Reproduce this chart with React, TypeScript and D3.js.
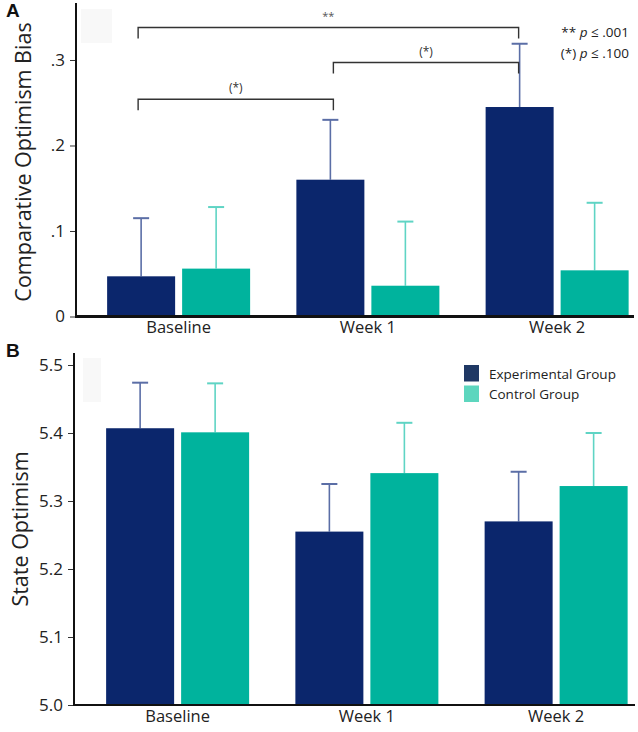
// App.tsx
import React, { useEffect, useRef } from "react";
import * as d3 from "d3";

const categories = ["Baseline", "Week 1", "Week 2"];
const groups = ["Experimental Group", "Control Group"];

// panel A: comparative optimism bias (mean, upper error)
const biasExp = [0.047, 0.16, 0.245];
const biasExpErr = [0.068, 0.07, 0.074];
const biasCtrl = [0.056, 0.036, 0.054];
const biasCtrlErr = [0.072, 0.075, 0.079];
const biasTicks = [0, 0.1, 0.2, 0.3];
const biasTickLabels = ["0", ".1", ".2", ".3"];

// significance brackets for panel A
const brackets = [
	{ from: "Baseline", to: "Week 2", level: 0.338, label: "**" },
	{ from: "Week 1", to: "Week 2", level: 0.297, label: "(*)" },
	{ from: "Baseline", to: "Week 1", level: 0.254, label: "(*)" },
];
const pNotes = [
	{ stars: "** ", value: " \u2264 .001" },
	{ stars: "(*) ", value: " \u2264 .100" },
];

// panel B: state optimism
const optExp = [5.407, 5.255, 5.27];
const optExpErr = [0.067, 0.07, 0.073];
const optCtrl = [5.401, 5.341, 5.322];
const optCtrlErr = [0.072, 0.074, 0.078];
const optTicks = [5.0, 5.1, 5.2, 5.3, 5.4, 5.5];

const barColor = { exp: "#0b266c", ctrl: "#00b39d" };
const errColor = { exp: "#5b6ea6", ctrl: "#5fd4c4" };
const legendColor = { exp: "#1f3864", ctrl: "#5dd6be" };
const font = "'Open Sans', sans-serif";

function drawPanel(svg, opts) {
	const { x, y, axisX, axisTop, axisBottom, xEnd, ticks, tickFormat, title, letter, letterY, exp, expErr, ctrl, ctrlErr, baseW } = opts;
	const g = svg.append("g");

	const inner = d3.scaleBand().domain(groups).range([0, 143]).paddingInner(7 / 75);
	const off = (x.bandwidth() - 143) / 2;

	// faint background artifact box
	g.append("rect").attr("x", opts.boxX).attr("y", opts.boxY).attr("width", opts.boxW).attr("height", opts.boxH).attr("fill", "#f8f8f8");

	const rows = categories.map((c, i) => [
		{ c, g: groups[0], v: exp[i], e: expErr[i], k: "exp" },
		{ c, g: groups[1], v: ctrl[i], e: ctrlErr[i], k: "ctrl" },
	]).flat();

	const base = y.domain()[0];

	// error bars
	rows.forEach((d) => {
		const cx = x(d.c) + off + inner(d.g) + inner.bandwidth() / 2;
		g.append("line").attr("x1", cx).attr("x2", cx).attr("y1", y(d.v)).attr("y2", y(d.v + d.e))
			.attr("stroke", errColor[d.k]).attr("stroke-width", 1.6);
		g.append("line").attr("x1", cx - 8).attr("x2", cx + 8).attr("y1", y(d.v + d.e)).attr("y2", y(d.v + d.e))
			.attr("stroke", errColor[d.k]).attr("stroke-width", 2);
	});

	g.selectAll("rect.bar")
		.data(rows)
		.enter()
		.append("rect")
		.attr("class", "bar")
		.attr("x", (d) => x(d.c) + off + inner(d.g))
		.attr("y", (d) => y(d.v))
		.attr("width", inner.bandwidth())
		.attr("height", (d) => y(base) - y(d.v))
		.attr("fill", (d) => barColor[d.k]);

	// y axis
	const yAxis = d3.axisLeft(y).tickValues(ticks).tickSize(6).tickPadding(5).tickFormat(tickFormat);
	const ya = g.append("g").attr("transform", `translate(${axisX},0)`).call(yAxis);
	ya.select(".domain").remove();
	ya.selectAll(".tick line").attr("stroke", "#333");
	ya.selectAll(".tick text").attr("font-family", font).attr("font-size", 17).attr("fill", "#222");
	g.append("line").attr("x1", axisX).attr("x2", axisX).attr("y1", axisTop).attr("y2", axisBottom)
		.attr("stroke", "#111").attr("stroke-width", 2);
	g.append("line").attr("x1", axisX - 1).attr("x2", xEnd).attr("y1", axisBottom).attr("y2", axisBottom)
		.attr("stroke", "#111").attr("stroke-width", baseW);

	// x labels
	const xa = g.append("g").attr("transform", `translate(0,${axisBottom + 1})`).call(d3.axisBottom(x).tickSize(0).tickPadding(4));
	xa.select(".domain").remove();
	xa.selectAll(".tick text").attr("font-family", font).attr("font-size", 16.5).attr("fill", "#222");

	// title and panel letter
	g.append("text")
		.attr("transform", `translate(${opts.titleX},${opts.titleY}) rotate(-90)`)
		.attr("text-anchor", "middle")
		.attr("dominant-baseline", "central")
		.attr("font-family", font)
		.attr("font-size", 21.5)
		.attr("fill", "#222")
		.text(title);
	g.append("text").attr("x", 6).attr("y", letterY).attr("font-family", "Arial, 'Liberation Sans', sans-serif")
		.attr("font-weight", "bold").attr("font-size", 19).attr("fill", "#111").text(letter);

	return { g, inner, off };
}

export default function App() {
	const ref = useRef(null);

	useEffect(() => {
		const svg = d3.select(ref.current);
		svg.selectAll("*").remove();

		// Panel A
		const xA = d3.scaleBand().domain(categories).range([84, 651.75]);
		const yA = d3.scaleLinear().domain([0, 0.367]).range([316.5, 2.7]);
		const a = drawPanel(svg, {
			x: xA, y: yA, axisX: 76, axisTop: 3, axisBottom: 316.5, xEnd: 634, baseW: 3,
			ticks: biasTicks, tickFormat: (d, i) => biasTickLabels[i],
			title: "Comparative Optimism Bias", titleX: 22, titleY: 162, letter: "A", letterY: 17,
			exp: biasExp, expErr: biasExpErr, ctrl: biasCtrl, ctrlErr: biasCtrlErr,
			boxX: 81, boxY: 9, boxW: 31, boxH: 34,
		});

		const expCenter = (c) => xA(c) + a.off + a.inner(groups[0]) + a.inner.bandwidth() / 2 - 3;
		brackets.forEach((b) => {
			const x1 = expCenter(b.from) + (b.from === "Week 1" ? 6 : 0);
			const x2 = expCenter(b.to) + (b.to === "Week 1" ? 6 : 2);
			const yy = yA(b.level);
			a.g.append("path")
				.attr("d", `M${x1},${yy + 11}V${yy}H${x2}V${yy + 11}`)
				.attr("fill", "none").attr("stroke", "#333").attr("stroke-width", 1.4);
			a.g.append("text").attr("x", (x1 + x2) / 2).attr("y", yy - 7).attr("text-anchor", "middle")
				.attr("font-family", font).attr("font-size", b.label === "**" ? 11 : 12)
				.attr("fill", b.label === "**" ? "#555" : "#333").text(b.label);
		});

		pNotes.forEach((p, i) => {
			const t = a.g.append("text").attr("x", 629).attr("y", 37 + i * 21).attr("text-anchor", "end")
				.attr("font-family", font).attr("font-size", 13.5).attr("fill", "#222");
			t.append("tspan").text(p.stars);
			t.append("tspan").attr("font-style", "italic").text("p");
			t.append("tspan").text(p.value);
		});

		// Panel B
		const xB = d3.scaleBand().domain(categories).range([83, 650.75]);
		const yB = d3.scaleLinear().domain([5.0, 5.5]).range([705, 365]);
		drawPanel(svg, {
			x: xB, y: yB, axisX: 74, axisTop: 353, axisBottom: 705, xEnd: 635, baseW: 2,
			ticks: optTicks, tickFormat: d3.format(".1f"),
			title: "State Optimism", titleX: 19, titleY: 529, letter: "B", letterY: 357,
			exp: optExp, expErr: optExpErr, ctrl: optCtrl, ctrlErr: optCtrlErr,
			boxX: 83, boxY: 358, boxW: 18, boxH: 44,
		});

		// legend
		const lg = svg.append("g").attr("transform", "translate(464,365)");
		groups.forEach((name, i) => {
			const k = i === 0 ? "exp" : "ctrl";
			lg.append("rect").attr("x", 0).attr("y", i * 20.5).attr("width", 15).attr("height", 16.5).attr("fill", legendColor[k]);
			lg.append("text").attr("x", 25).attr("y", i * 20.5 + 8.5).attr("dominant-baseline", "central")
				.attr("font-family", font).attr("font-size", 13.5).attr("fill", "#222").text(name);
		});
	}, []);

	return (
		<svg ref={ref} width={638} height={732} style={{ position: "absolute", left: 0, top: 0, background: "#fff" }} />
	);
}
